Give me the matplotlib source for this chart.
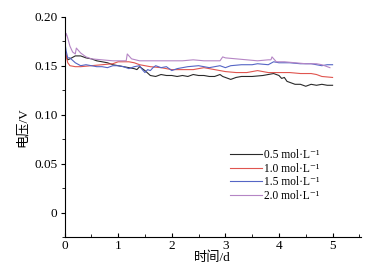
import matplotlib.pyplot as plt
from matplotlib.ticker import MultipleLocator

plt.rcParams['font.family'] = ['Liberation Serif', 'DejaVu Serif', 'Noto Sans CJK SC']

t_05 = [0, 0.03, 0.06, 0.1, 0.2, 0.3, 0.4, 0.5, 0.6, 0.7, 0.8, 0.9, 1.0, 1.1, 1.2, 1.3, 1.35, 1.4,
        1.5, 1.6, 1.7, 1.8, 1.9, 2.0, 2.1, 2.2, 2.3, 2.4, 2.5, 2.6, 2.7, 2.8, 2.9, 2.95, 3.0, 3.1,
        3.2, 3.3, 3.5, 3.7, 3.9, 4.0, 4.05, 4.1, 4.15, 4.2, 4.3, 4.4, 4.5, 4.6, 4.7, 4.8, 4.9, 5.0]
v_05 = [0.171, 0.160, 0.156, 0.157, 0.160, 0.160, 0.158, 0.157, 0.155, 0.154, 0.153, 0.151, 0.150,
        0.149, 0.148, 0.147, 0.146, 0.149, 0.145, 0.140, 0.139, 0.141, 0.140, 0.140, 0.139, 0.140,
        0.139, 0.141, 0.140, 0.140, 0.139, 0.139, 0.141, 0.139, 0.138, 0.136, 0.138, 0.139, 0.139,
        0.140, 0.142, 0.140, 0.137, 0.138, 0.134, 0.133, 0.131, 0.131, 0.129, 0.131, 0.130, 0.131,
        0.130, 0.130]

t_10 = [0, 0.03, 0.06, 0.1, 0.2, 0.3, 0.5, 0.7, 0.9, 1.0, 1.1, 1.2, 1.3, 1.4, 1.5, 1.6, 1.8, 2.0,
        2.2, 2.4, 2.5, 2.6, 2.7, 2.8, 3.0, 3.2, 3.4, 3.6, 3.8, 4.0, 4.2, 4.4, 4.6, 4.7, 4.8, 5.0]
v_10 = [0.170, 0.160, 0.153, 0.150, 0.149, 0.149, 0.150, 0.151, 0.152, 0.154, 0.154, 0.154, 0.153,
        0.151, 0.150, 0.149, 0.148, 0.146, 0.146, 0.146, 0.147, 0.148, 0.147, 0.146, 0.144, 0.143,
        0.143, 0.145, 0.143, 0.143, 0.143, 0.142, 0.142, 0.141, 0.139, 0.138]

t_15 = [0, 0.03, 0.06, 0.1, 0.2, 0.3, 0.4, 0.5, 0.6, 0.7, 0.8, 0.9, 1.0, 1.1, 1.2, 1.3, 1.4, 1.45,
        1.5, 1.55, 1.6, 1.65, 1.7, 1.8, 1.9, 2.0, 2.1, 2.2, 2.3, 2.5, 2.7, 2.9, 3.0, 3.1, 3.3, 3.5,
        3.6, 3.8, 3.9, 4.0, 4.2, 4.4, 4.6, 4.8, 4.9, 5.0]
v_15 = [0.176, 0.165, 0.158, 0.158, 0.153, 0.150, 0.151, 0.150, 0.149, 0.149, 0.148, 0.150, 0.150,
        0.149, 0.147, 0.149, 0.150, 0.146, 0.143, 0.146, 0.145, 0.148, 0.150, 0.148, 0.149, 0.145,
        0.147, 0.148, 0.149, 0.150, 0.148, 0.150, 0.148, 0.150, 0.151, 0.151, 0.152, 0.151, 0.154,
        0.153, 0.153, 0.152, 0.152, 0.150, 0.151, 0.151]

t_20 = [0, 0.03, 0.05, 0.1, 0.15, 0.2, 0.22, 0.3, 0.4, 0.5, 0.7, 0.9, 1.0, 1.1, 1.15, 1.17, 1.25,
        1.4, 1.6, 1.8, 2.0, 2.2, 2.4, 2.6, 2.8, 2.9, 2.95, 3.0, 3.2, 3.4, 3.6, 3.8, 3.85, 3.87,
        3.95, 4.1, 4.3, 4.5, 4.7, 4.8, 4.9, 4.95]
v_20 = [0.175, 0.183, 0.180, 0.170, 0.164, 0.162, 0.168, 0.163, 0.159, 0.157, 0.156, 0.155, 0.155,
        0.155, 0.155, 0.162, 0.157, 0.155, 0.155, 0.155, 0.155, 0.155, 0.156, 0.155, 0.155, 0.155,
        0.159, 0.158, 0.157, 0.156, 0.155, 0.156, 0.156, 0.159, 0.154, 0.154, 0.153, 0.152, 0.152,
        0.151, 0.149, 0.148]

labels = ['0.5 mol·L⁻¹', '1.0 mol·L⁻¹', '1.5 mol·L⁻¹', '2.0 mol·L⁻¹']
colors = ['#2a2a2a', '#e0554f', '#5565c5', '#b585c5']

fig = plt.figure(figsize=(3.71, 2.70), dpi=100)
ax = fig.add_axes([0.174, 0.122, 0.799, 0.816])

for t, v, lab, c in zip([t_05, t_10, t_15, t_20], [v_05, v_10, v_15, v_20], labels, colors):
    ax.plot(t, v, color=c, lw=0.8, label=lab)

ax.set_xlim(0, 5.53)
ax.set_ylim(-0.025, 0.2)
ax.set_xticks([0, 1, 2, 3, 4, 5])
ax.xaxis.set_minor_locator(MultipleLocator(0.5))
ax.set_yticks([0, 0.05, 0.10, 0.15, 0.20])
ax.set_yticklabels(['0', '0.05', '0.10', '0.15', '0.20'])
ax.yaxis.set_minor_locator(MultipleLocator(0.025))
ax.tick_params(axis='x', which='both', direction='in', labelsize=9.5, length=3, pad=2)
ax.tick_params(axis='y', which='both', direction='out', labelsize=9.5, length=3, pad=2)
ax.tick_params(axis='y', which='minor', length=2)
ax.tick_params(axis='x', which='minor', length=2)
for s in ['top', 'right']:
    ax.spines[s].set_visible(False)

ax.set_xlabel('时间/d', fontsize=9.5, labelpad=0)
ax.set_ylabel('电压/V', fontsize=9.5, labelpad=4)

ax.legend(loc='lower right', bbox_to_anchor=(0.88, 0.135), frameon=False, fontsize=8.3,
          handlelength=2.8, handletextpad=0.2, labelspacing=0.12, borderpad=0)

fig.savefig('out.png', dpi=100)
